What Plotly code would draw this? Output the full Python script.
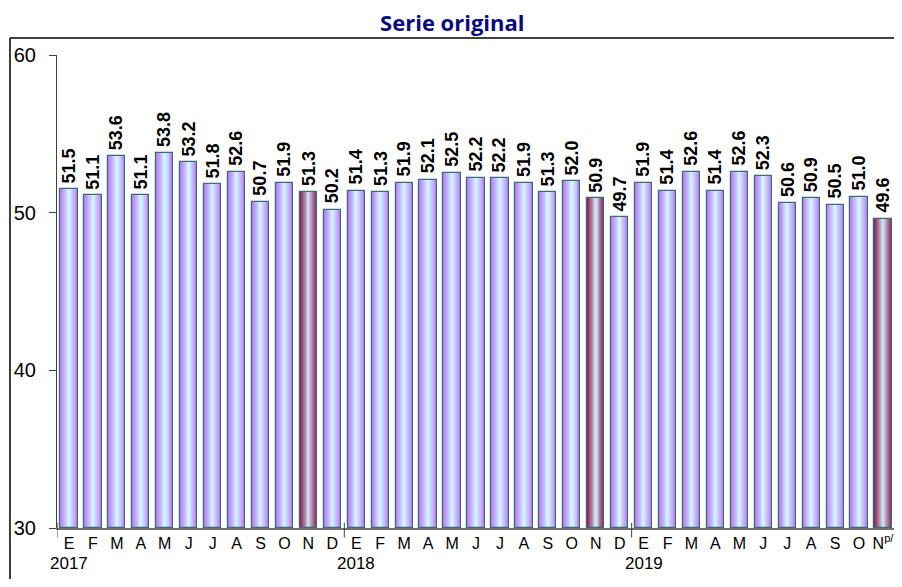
import plotly.graph_objects as go

months = ["E", "F", "M", "A", "M", "J", "J", "A", "S", "O", "N", "D",
          "E", "F", "M", "A", "M", "J", "J", "A", "S", "O", "N", "D",
          "E", "F", "M", "A", "M", "J", "J", "A", "S", "O", "N<sup>p/</sup>"]
years = ["2017", "2018", "2019"]
values = [51.5, 51.1, 53.6, 51.1, 53.8, 53.2, 51.8, 52.6, 50.7, 51.9, 51.3, 50.2,
          51.4, 51.3, 51.9, 52.1, 52.5, 52.2, 52.2, 51.9, 51.3, 52.0, 50.9, 49.7,
          51.9, 51.4, 52.6, 51.4, 52.6, 52.3, 50.6, 50.9, 50.5, 51.0, 49.6]

x = list(range(len(values)))
year_start = [i * 12 for i in range(len(years))]
highlight = [m.startswith("N") for m in months]


def lerp(c1, c2, t):
    a = [int(c1[i:i + 2], 16) for i in (1, 3, 5)]
    b = [int(c2[i:i + 2], 16) for i in (1, 3, 5)]
    return "rgb(%d,%d,%d)" % tuple(round(a[k] + (b[k] - a[k]) * t) for k in range(3))


purple_edge, purple_mid, purple_center = "#b184f2", "#c8b4ff", "#d2f2ff"
maroon_edge, maroon_mid, maroon_center = "#86285a", "#b07aa0", "#c9dff0"

fig = go.Figure()
n_layers = 9
w_outer = 0.72
for k in range(n_layers):
    t = k / (n_layers - 1)
    w = w_outer * (1 - t * 0.9)
    colors = []
    for h in highlight:
        e, m, c = (maroon_edge, maroon_mid, maroon_center) if h else (purple_edge, purple_mid, purple_center)
        if t < 0.5:
            colors.append(lerp(e, m, t * 2))
        else:
            colors.append(lerp(m, c, (t - 0.5) * 2))
    fig.add_trace(go.Bar(
        x=x, y=[v - 30 for v in values], base=30, width=w,
        marker=dict(color=colors, line=dict(width=0)),
        hoverinfo="skip", showlegend=False,
    ))

# outline
fig.add_trace(go.Bar(
    x=x, y=[v - 30 for v in values], base=30, width=w_outer,
    marker=dict(color="rgba(0,0,0,0)", line=dict(color="#3e6b6e", width=1.2)),
    showlegend=False,
))

annotations = []
for xi, v in zip(x, values):
    annotations.append(dict(
        x=xi, y=v, xref="x", yref="y", text="<b>%.1f</b>" % v, showarrow=False,
        textangle=-90, xanchor="center", yanchor="bottom", yshift=4,
        font=dict(family="Arial, Liberation Sans", size=18, color="black"),
    ))
for xs, yr in zip(year_start, years):
    annotations.append(dict(
        x=xs, y=0, xref="x", yref="paper", text=yr, showarrow=False,
        xanchor="center", yanchor="middle", yshift=-35,
        font=dict(family="Arial, Liberation Sans", size=17, color="black"),
    ))

shapes = []
# year boundary ticks
for b in [-0.5] + [s - 0.5 for s in year_start[1:]]:
    shapes.append(dict(type="line", xref="x", yref="paper", x0=b, x1=b,
                       y0=-0.02, y1=0.011, line=dict(color="#404040", width=1)))
# outer frame
shapes.append(dict(type="line", xref="paper", yref="paper", x0=-0.0561, x1=1.009,
                   y0=1.036, y1=1.036, line=dict(color="black", width=1.5)))
shapes.append(dict(type="line", xref="paper", yref="paper", x0=-0.0561, x1=-0.0561,
                   y0=1.036, y1=-0.2, line=dict(color="black", width=1.5)))

# page body has an 8px margin, so the figure is sized/offset to compensate
fig.update_layout(
    width=894, height=571,
    margin=dict(l=49, r=7, t=47, b=51),
    paper_bgcolor="white", plot_bgcolor="white",
    barmode="overlay",
    bargap=0,
    title=dict(text="<b>Serie original</b>", x=0.497, xanchor="center", y=1 - 15 / 571, yanchor="middle",
               font=dict(family="Open Sans", size=22, color="#0a0a80")),
    shapes=shapes,
    annotations=annotations,
    font=dict(family="Arial, Liberation Sans"),
)
fig.update_xaxes(range=[-0.5, 34.5], tickvals=x, ticktext=months, ticks="", tickangle=0,
                 showline=True, linecolor="#707070", linewidth=1.5, automargin=False,
                 tickfont=dict(size=16, color="black"), showgrid=False, zeroline=False)
fig.update_yaxes(range=[30, 60], tickvals=[30, 40, 50, 60], ticks="outside", ticklen=7,
                 tickcolor="#404040", showline=True, linecolor="#404040", linewidth=1,
                 automargin=False, ticklabelstandoff=9,
                 tickfont=dict(size=20, color="black"), showgrid=False, zeroline=False)

fig.write_html("out.html")
